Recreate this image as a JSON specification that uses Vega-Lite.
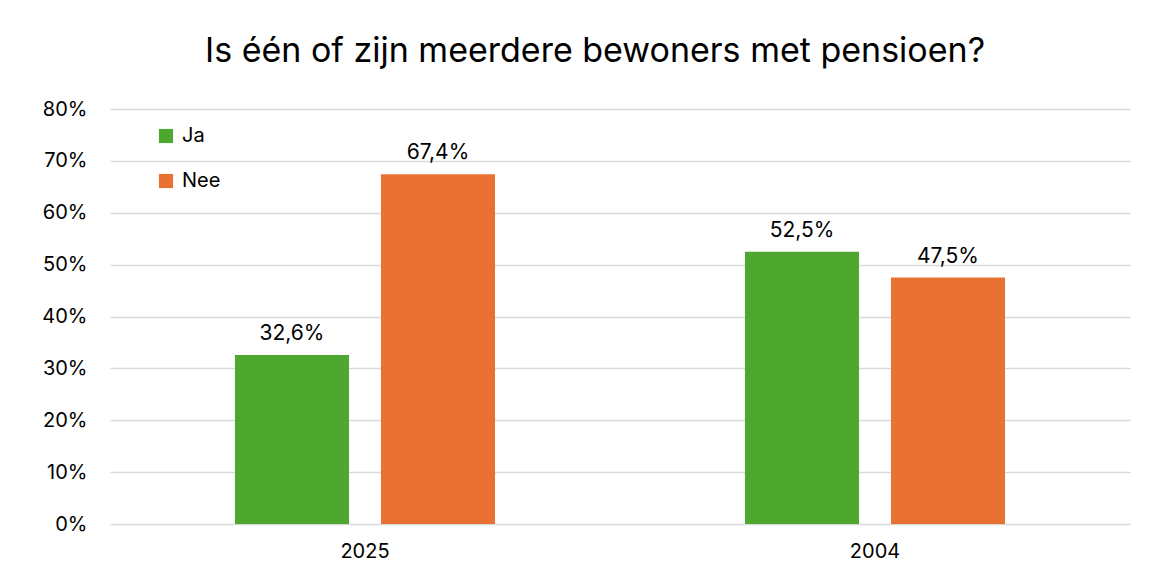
{
  "$schema": "https://vega.github.io/schema/vega-lite/v6.json",
  "autosize": "none",
  "width": 1020,
  "height": 415,
  "padding": {"left": 110, "top": 109, "right": 43, "bottom": 51},
  "background": "white",
  "config": {
    "font": "Inter",
    "view": {"stroke": null},
    "locale": {"number": {"decimal": ",", "thousands": ".", "grouping": [3], "currency": ["€", ""]}}
  },
  "title": {
    "text": "Is één of zijn meerdere bewoners met pensioen?",
    "fontSize": 34,
    "fontWeight": "normal",
    "color": "#000000",
    "anchor": "middle",
    "dx": -25,
    "offset": 30
  },
  "data": {
    "values": [
      {"jaar": "2025", "antwoord": "Ja", "aandeel": 0.326},
      {"jaar": "2025", "antwoord": "Nee", "aandeel": 0.674},
      {"jaar": "2004", "antwoord": "Ja", "aandeel": 0.525},
      {"jaar": "2004", "antwoord": "Nee", "aandeel": 0.475}
    ]
  },
  "encoding": {
    "x": {
      "field": "jaar",
      "type": "nominal",
      "sort": ["2025", "2004"],
      "scale": {"paddingInner": 0, "paddingOuter": 0},
      "axis": {
        "title": null,
        "labelAngle": 0,
        "labelFontSize": 20,
        "labelColor": "#000000",
        "labelPadding": 17,
        "ticks": false,
        "domain": false
      }
    },
    "xOffset": {
      "field": "antwoord",
      "type": "nominal",
      "sort": ["Ja", "Nee"],
      "scale": {"paddingInner": 0.219, "paddingOuter": 0.856}
    },
    "y": {
      "field": "aandeel",
      "type": "quantitative",
      "scale": {"domain": [0, 0.8]},
      "axis": {
        "title": null,
        "format": ".0%",
        "values": [0, 0.1, 0.2, 0.3, 0.4, 0.5, 0.6, 0.7, 0.8],
        "labelFontSize": 20,
        "labelColor": "#000000",
        "labelPadding": 23,
        "ticks": false,
        "domain": false,
        "gridColor": "#d9d9d9",
        "gridWidth": 1.5
      }
    }
  },
  "layer": [
    {
      "mark": {"type": "bar"},
      "encoding": {
        "color": {
          "field": "antwoord",
          "type": "nominal",
          "scale": {"domain": ["Ja", "Nee"], "range": ["#4EA72E", "#E97132"]},
          "legend": {
            "title": null,
            "orient": "none",
            "legendX": 46,
            "legendY": 17,
            "symbolType": "square",
            "symbolSize": 200,
            "symbolStrokeWidth": 0,
            "labelFontSize": 20,
            "labelColor": "#000000",
            "rowPadding": 25,
            "labelOffset": 6
          }
        }
      }
    },
    {
      "mark": {"type": "text", "baseline": "bottom", "dy": -11, "fontSize": 21, "color": "#000000"},
      "encoding": {
        "text": {"field": "aandeel", "type": "quantitative", "format": ".1%"}
      }
    }
  ]
}
